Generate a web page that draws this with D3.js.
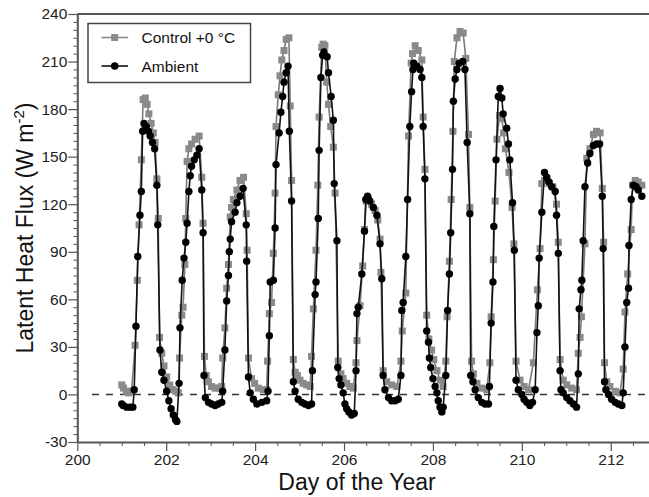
<!DOCTYPE html>
<html>
<head>
<meta charset="utf-8">
<script src="https://cdn.jsdelivr.net/npm/d3@7"></script>
<style>
  html, body { margin: 0; padding: 0; background: #fff; }
  svg { display: block; font-family: "Liberation Sans", Arial, Helvetica, sans-serif; }
</style>
</head>
<body>
<svg id="chart" width="649" height="497"></svg>
<script>
// ---- Data (day of year, latent heat flux W m-2) ----
const controlSeries = [
[201.00,6],[201.04,4],[201.10,2],[201.16,1],[201.22,2],[201.30,31],[201.35,72],[201.39,107],[201.44,148],[201.48,186],[201.53,187],[201.57,183],[201.61,177],[201.66,171],[201.71,165],[201.75,159],[201.79,136],[201.82,111],[201.85,36],[201.90,26],[201.95,18],[202.01,11],[202.08,6],[202.15,3],[202.22,2],[202.27,1],
[202.30,23],[202.35,50],[202.38,55],[202.42,82],[202.44,111],[202.47,147],[202.51,155],[202.57,158],[202.65,161],[202.74,163],[202.80,137],[202.83,108],[202.86,24],[202.90,12],[202.95,8],[203.02,5],[203.10,4],[203.18,4],[203.25,5],
[203.27,23],[203.32,42],[203.36,67],[203.40,82],[203.44,112],[203.47,118],[203.51,123],[203.59,129],[203.66,135],[203.74,137],[203.80,114],[203.82,91],[203.85,23],[203.92,10],[203.99,7],[204.07,4],[204.18,3],[204.26,3],
[204.28,21],[204.32,51],[204.37,58],[204.41,89],[204.45,127],[204.47,169],[204.52,189],[204.56,201],[204.60,211],[204.65,217],[204.70,224],[204.76,225],[204.79,182],[204.82,135],[204.86,22],[204.90,14],[204.95,12],[205.01,9],[205.08,7],[205.16,6],[205.24,5],
[205.27,24],[205.31,54],[205.37,91],[205.41,132],[205.44,175],[205.50,219],[205.53,221],[205.57,220],[205.61,197],[205.65,183],[205.70,169],[205.76,156],[205.80,127],[205.87,21],[205.93,13],[205.98,10],[206.06,7],[206.13,5],[206.21,4],
[206.27,20],[206.29,34],[206.36,56],[206.42,81],[206.46,104],[206.50,122],[206.55,123],[206.62,120],[206.70,116],[206.76,110],[206.81,98],[206.83,77],[206.88,15],[206.96,8],[207.07,6],[207.19,5],
[207.28,21],[207.31,40],[207.39,64],[207.45,163],[207.51,209],[207.54,215],[207.60,220],[207.67,217],[207.75,211],[207.78,175],[207.82,142],[207.86,50],[207.91,35],[207.97,28],[208.02,22],[208.09,15],[208.16,9],[208.23,5],
[208.29,21],[208.32,49],[208.37,84],[208.41,123],[208.45,166],[208.48,210],[208.54,225],[208.61,229],[208.68,228],[208.74,212],[208.80,164],[208.83,118],[208.87,21],[208.91,13],[208.99,7],[209.10,4],[209.21,3],
[209.28,20],[209.31,49],[209.36,85],[209.40,122],[209.44,161],[209.50,176],[209.55,174],[209.59,165],[209.63,155],[209.71,140],[209.78,118],[209.82,95],[209.87,21],[209.96,9],[210.05,5],[210.15,3],
[210.26,20],[210.35,66],[210.41,92],[210.45,133],[210.51,135],[210.62,133],[210.70,131],[210.78,120],[210.82,96],[210.86,22],[210.93,9],[211.01,6],[211.12,4],[211.23,3],
[211.27,26],[211.31,36],[211.34,49],[211.42,95],[211.46,149],[211.53,155],[211.61,164],[211.68,166],[211.76,165],[211.81,130],[211.84,96],[211.86,20],[211.91,8],[211.98,5],[212.10,2],[212.21,1],
[212.28,16],[212.32,52],[212.38,76],[212.46,104],[212.49,132],[212.55,135],[212.62,134],[212.70,132]
];

const ambientSeries = [
[201.00,-6],[201.03,-7],[201.11,-8],[201.19,-8],[201.25,-8],[201.28,3],[201.32,43],[201.36,87],[201.41,113],[201.44,128],[201.47,166],[201.50,171],[201.55,169],[201.60,166],[201.64,163],[201.69,159],[201.74,155],[201.79,132],[201.81,107],[201.86,28],[201.90,14],[201.95,9],[202.01,2],[202.06,-4],[202.11,-9],[202.16,-13],[202.21,-16],[202.24,-17],
[202.29,7],[202.31,42],[202.36,72],[202.40,86],[202.44,96],[202.47,108],[202.51,128],[202.54,138],[202.57,144],[202.63,148],[202.69,151],[202.74,155],[202.80,129],[202.83,102],[202.85,12],[202.88,-2],[202.95,-5],[203.02,-6],[203.10,-7],[203.17,-6],[203.25,-5],
[203.27,2],[203.32,28],[203.36,59],[203.40,75],[203.42,90],[203.44,98],[203.47,109],[203.55,115],[203.59,121],[203.66,125],[203.73,130],[203.80,107],[203.81,84],[203.85,11],[203.89,1],[203.96,-3],[204.04,-6],[204.15,-5],[204.26,-4],
[204.29,2],[204.32,37],[204.34,71],[204.41,72],[204.45,105],[204.47,145],[204.54,165],[204.58,178],[204.62,188],[204.65,197],[204.70,203],[204.74,207],[204.77,166],[204.82,122],[204.86,8],[204.90,2],[204.97,-3],[205.05,-5],[205.12,-6],[205.20,-7],[205.27,-6],
[205.29,15],[205.35,63],[205.37,71],[205.42,111],[205.44,154],[205.48,200],[205.52,214],[205.55,216],[205.62,213],[205.65,203],[205.71,188],[205.76,173],[205.78,133],[205.84,97],[205.86,17],[205.89,10],[205.93,6],[205.98,1],[206.02,-6],[206.06,-9],[206.11,-11],[206.17,-13],[206.23,-12],
[206.27,15],[206.29,51],[206.32,55],[206.40,76],[206.46,103],[206.49,123],[206.53,125],[206.58,122],[206.66,118],[206.74,113],[206.81,95],[206.85,73],[206.88,12],[206.92,3],[207.00,-2],[207.07,-4],[207.15,-4],[207.22,-3],
[207.28,12],[207.30,53],[207.33,58],[207.39,87],[207.43,123],[207.48,169],[207.52,191],[207.55,205],[207.57,209],[207.64,207],[207.71,205],[207.75,200],[207.78,169],[207.82,136],[207.86,40],[207.90,33],[207.92,23],[207.95,17],[208.00,10],[208.05,5],[208.09,1],[208.12,-4],[208.16,-8],[208.20,-11],[208.23,-8],
[208.29,12],[208.33,53],[208.37,76],[208.40,102],[208.44,142],[208.46,185],[208.50,199],[208.54,205],[208.59,209],[208.67,210],[208.72,205],[208.77,159],[208.83,114],[208.85,12],[208.90,8],[208.95,3],[209.02,-2],[209.10,-5],[209.17,-6],[209.25,-6],
[209.27,5],[209.31,45],[209.35,71],[209.37,106],[209.42,148],[209.47,188],[209.51,193],[209.55,187],[209.58,177],[209.66,168],[209.70,158],[209.73,148],[209.79,121],[209.83,91],[209.87,9],[209.92,3],[210.00,0],[210.05,-3],[210.11,-5],[210.18,-7],[210.24,-5],
[210.30,3],[210.34,39],[210.37,56],[210.39,86],[210.45,115],[210.51,140],[210.56,137],[210.61,134],[210.67,131],[210.75,128],[210.78,113],[210.82,89],[210.86,15],[210.88,3],[210.93,1],[211.01,-2],[211.08,-4],[211.16,-6],[211.23,-8],
[211.27,13],[211.29,54],[211.33,66],[211.35,72],[211.38,97],[211.42,131],[211.48,146],[211.53,152],[211.61,157],[211.68,158],[211.75,158],[211.81,125],[211.83,92],[211.86,8],[211.89,3],[211.95,0],[212.02,-3],[212.10,-5],[212.17,-6],[212.25,-7],
[212.28,1],[212.32,30],[212.36,58],[212.40,67],[212.41,94],[212.46,123],[212.51,132],[212.57,131],[212.62,129],[212.70,125]
];

const seriesNames = ["Control +0 \u00B0C", "Ambient"];
const xTickValues = [200, 202, 204, 206, 208, 210, 212];
const yTickValues = [-30, 0, 30, 60, 90, 120, 150, 180, 210, 240];
const xLabel = "Day of the Year";
const yLabelMain = "Latent Heat Flux (W m";
const yLabelSup = "-2";

// ---- Layout ----
const svg = d3.select("#chart");
const plotL = 77.3, plotR = 655.2, plotT = 14, plotB = 442;
const x = d3.scaleLinear().domain([200, 213]).range([plotL, plotR]);
const y = d3.scaleLinear().domain([-30, 240]).range([plotB, plotT]);

const axisColor = "#555";
const grayColor = "#8a8a8a";

// zero dashed line
svg.append("line")
  .attr("x1", x(200.33)).attr("x2", x(213))
  .attr("y1", y(0)).attr("y2", y(0))
  .attr("stroke", "#333").attr("stroke-width", 1.4)
  .attr("stroke-dasharray", "7,7");

// minor ticks
const xMinor = d3.range(200, 213.01, 0.5).filter(v => Math.abs(v % 2) > 1e-6);
const yMinor = d3.range(-30, 240.01, 5).filter(v => ((v % 30) + 30) % 30 !== 0);

svg.append("g").attr("transform", `translate(0,${plotB})`)
  .call(d3.axisBottom(x).tickValues(xMinor).tickSize(4).tickFormat(""))
  .call(g => g.select(".domain").remove())
  .selectAll("line").attr("stroke", axisColor).attr("stroke-width", 1);

svg.append("g").attr("transform", `translate(${plotL},0)`)
  .call(d3.axisLeft(y).tickValues(yMinor).tickSize(4).tickFormat(""))
  .call(g => g.select(".domain").remove())
  .selectAll("line").attr("stroke", axisColor).attr("stroke-width", 1);

// major axes
const xAxis = svg.append("g").attr("transform", `translate(0,${plotB})`)
  .call(d3.axisBottom(x).tickValues(xTickValues).tickSize(9).tickSizeOuter(0).tickPadding(3).tickFormat(d => String(d)));
xAxis.select(".domain").attr("stroke", axisColor).attr("stroke-width", 2);
xAxis.selectAll(".tick line").attr("stroke", axisColor).attr("stroke-width", 1.2);
xAxis.selectAll(".tick text").attr("font-size", 15.5).attr("fill", "#222")
  .attr("font-family", "Liberation Sans, Arial, sans-serif");

const yAxis = svg.append("g").attr("transform", `translate(${plotL},0)`)
  .call(d3.axisLeft(y).tickValues(yTickValues).tickSize(9).tickSizeOuter(0).tickPadding(1).tickFormat(d => String(d)));
yAxis.select(".domain").attr("stroke", axisColor).attr("stroke-width", 2);
yAxis.selectAll(".tick line").attr("stroke", axisColor).attr("stroke-width", 1.2);
yAxis.selectAll(".tick text").attr("font-size", 15.5).attr("fill", "#222")
  .attr("font-family", "Liberation Sans, Arial, sans-serif");

// top frame line
svg.append("line").attr("x1", plotL).attr("x2", 649).attr("y1", plotT).attr("y2", plotT)
  .attr("stroke", axisColor).attr("stroke-width", 2);

// ---- Series ----
const line = d3.line().x(d => x(d[0])).y(d => y(d[1]));

const gCtrl = svg.append("g");
gCtrl.append("path").datum(controlSeries).attr("d", line)
  .attr("fill", "none").attr("stroke", "#7a7a7a").attr("stroke-width", 1.6);
gCtrl.selectAll("rect").data(controlSeries).join("rect")
  .attr("x", d => x(d[0]) - 3.5).attr("y", d => y(d[1]) - 3.5)
  .attr("width", 7).attr("height", 7).attr("fill", grayColor);

const gAmb = svg.append("g");
gAmb.append("path").datum(ambientSeries).attr("d", line)
  .attr("fill", "none").attr("stroke", "#111").attr("stroke-width", 1.6);
gAmb.selectAll("circle").data(ambientSeries).join("circle")
  .attr("cx", d => x(d[0])).attr("cy", d => y(d[1])).attr("r", 3.7).attr("fill", "#000");

// ---- Legend ----
const lg = svg.append("g");
lg.append("rect").attr("x", 88).attr("y", 23.5).attr("width", 162.5).attr("height", 59)
  .attr("fill", "#fff").attr("stroke", "#444").attr("stroke-width", 1.5);
lg.append("line").attr("x1", 101.5).attr("x2", 128).attr("y1", 37.5).attr("y2", 37.5)
  .attr("stroke", "#8a8a8a").attr("stroke-width", 1.6);
lg.append("rect").attr("x", 114.7 - 3.5).attr("y", 37.5 - 3.5).attr("width", 7).attr("height", 7).attr("fill", grayColor);
lg.append("text").attr("x", 141.5).attr("y", 43).attr("font-size", 15.5).attr("fill", "#111").text(seriesNames[0]);
lg.append("line").attr("x1", 101.5).attr("x2", 128).attr("y1", 66).attr("y2", 66)
  .attr("stroke", "#111").attr("stroke-width", 1.6);
lg.append("circle").attr("cx", 114.7).attr("cy", 66).attr("r", 3.8).attr("fill", "#000");
lg.append("text").attr("x", 141.5).attr("y", 71.5).attr("font-size", 15.5).attr("fill", "#111").text(seriesNames[1]);

// ---- Axis titles ----
svg.append("text").attr("x", 357).attr("y", 490).attr("text-anchor", "middle")
  .attr("font-size", 23).attr("fill", "#111").text(xLabel);

const yt = svg.append("text").attr("transform", "translate(33,228) rotate(-90)")
  .attr("text-anchor", "middle").attr("font-size", 23).attr("fill", "#111");
yt.append("tspan").text(yLabelMain);
yt.append("tspan").attr("font-size", 15).attr("dy", -9).text(yLabelSup);
yt.append("tspan").attr("dy", 9).text(")");
</script>
</body>
</html>
